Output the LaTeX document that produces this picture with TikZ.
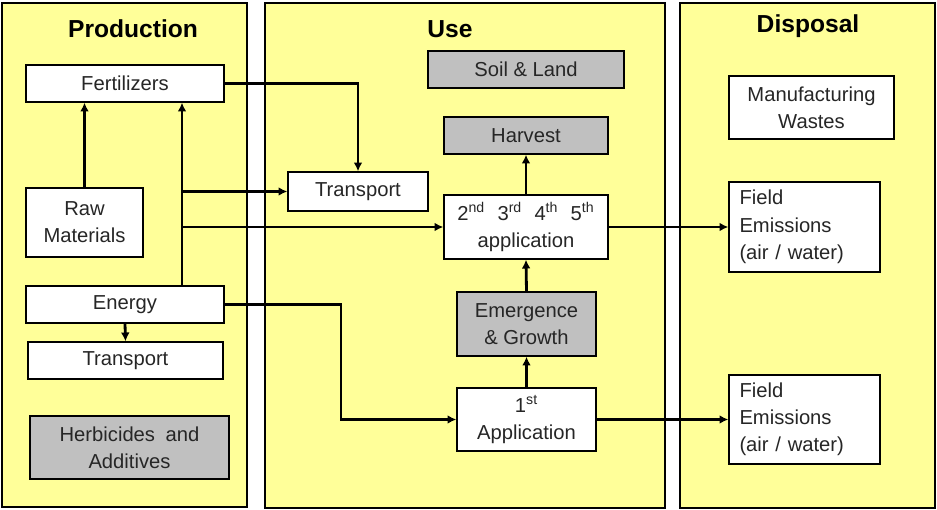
\documentclass[tikz,border=0pt]{standalone}
\usepackage{fontspec}
\setmainfont{Liberation Sans}
\usetikzlibrary{arrows.meta}

\definecolor{panelyellow}{HTML}{FFFF99}
\definecolor{boxgrey}{HTML}{C0C0C0}

\begin{document}
\begin{tikzpicture}[x=0.02cm,y=-0.02cm,
    panel/.style={draw,line width=1.1pt,fill=panelyellow,inner sep=0pt},
    title/.style={anchor=base,font=\bfseries\fontsize{14}{16}\selectfont},
    box/.style={draw,line width=0.8pt,fill=white,inner sep=0pt,align=center,
      font=\fontsize{11.5}{15.5}\selectfont,text=black!85},
    greybox/.style={box,fill=boxgrey},
    emitbox/.style={box,align=left,text width=2.6cm},
    conn/.style={line width=1.6pt,-{Latex[length=5pt,width=5pt]}}]
      \useasboundingbox (0,0) rectangle (937,510);
      % the three stages
      \node[panel,minimum width=4.9cm,minimum height=10.08cm] (prod) at (124.5,255) {};
      \node[panel,minimum width=8cm,minimum height=10.1cm] (use) at (465,255.5) {};
      \node[panel,minimum width=5.1cm,minimum height=10.1cm] (disp) at (807.5,255.5) {};
      \node[title] (prodtitle) at (133,38) {Production};
      \node[title] (usetitle) at (450,38) {Use};
      \node[title] (disptitle) at (808,33) {Disposal};
      % production
      \node[box,minimum width=3.96cm,minimum height=0.74cm] (fert) at (125,83.5) {Fertilizers};
      \node[box,minimum width=2.34cm,minimum height=1.38cm] (raw) at (84.5,222.5) {Raw\\Materials};
      \node[box,minimum width=3.96cm,minimum height=0.74cm] (energy) at (125,304.5) {Energy};
      \node[box,minimum width=3.9cm,minimum height=0.74cm] (transA) at (125.5,360.5) {Transport};
      \node[greybox,minimum width=3.98cm,minimum height=1.26cm] (herb) at (129.5,447.5) {Herbicides\hspace{6pt}and\\Additives};
      % use
      \node[greybox,minimum width=3.92cm,minimum height=0.74cm] (soil) at (526,69.5) {Soil \& Land};
      \node[greybox,minimum width=3.28cm,minimum height=0.74cm] (harvest) at (526,135.5) {Harvest};
      \node[box,minimum width=2.8cm,minimum height=0.78cm] (transB) at (358,191.5) {Transport};
      \node[box,minimum width=3.28cm,minimum height=1.28cm] (app2) at (526,227)
        {2\textsuperscript{nd}\hspace{7pt}3\textsuperscript{rd}\hspace{7pt}4\textsuperscript{th}\hspace{7pt}5\textsuperscript{th}\\application};
      \node[greybox,minimum width=2.78cm,minimum height=1.28cm] (emerg) at (526.5,324) {Emergence\\\& Growth};
      \node[box,minimum width=2.78cm,minimum height=1.26cm] (app1) at (526.5,419.5) {1\textsuperscript{st}\\Application};
      % disposal
      \node[box,minimum width=3.3cm,minimum height=1.26cm] (waste) at (811.5,107.5) {Manufacturing\\Wastes};
      \node[emitbox,minimum width=3.02cm,minimum height=1.8cm] (field1) at (804.5,227) {Field\\Emissions\\(air / water)};
      \node[emitbox,minimum width=3.02cm,minimum height=1.78cm] (field2) at (804.5,419.5) {Field\\Emissions\\(air / water)};
      % flows
      \coordinate (rise) at (182,0);
      \coordinate (bend) at (341,0);
      \draw[conn] (raw.north) -- (raw.north |- fert.south);
      \draw[conn] (energy.north -| rise) -- (fert.south -| rise);
      \draw[conn] (rise |- transB.west) -- (transB.west);
      \draw[conn] (rise |- app2.west) -- (app2.west);
      \draw[conn] (fert.east) -| (transB.north);
      \draw[conn] (energy.south) -- (transA.north);
      \draw[conn] (energy.east) -| (bend |- app1.west) -- (app1.west);
      \draw[conn] (app1.north) -- (emerg.south);
      \draw[conn] (emerg.north) -- (app2.south);
      \draw[conn] (app2.north) -- (harvest.south);
      \draw[conn] (app2.east) -- (field1.west);
      \draw[conn] (app1.east) -- (field2.west);
    \end{tikzpicture}
\end{document}
